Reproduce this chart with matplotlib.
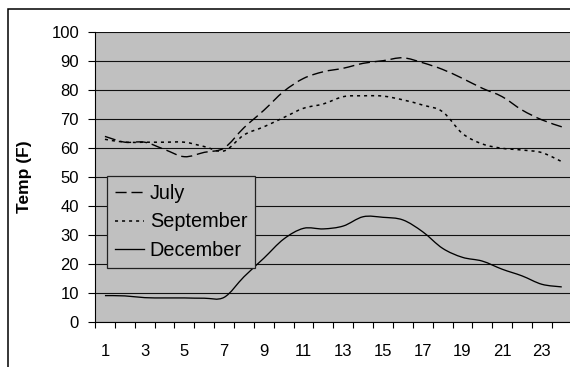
import matplotlib
matplotlib.use("Agg")
import matplotlib.pyplot as plt
from matplotlib.path import Path
from matplotlib.patches import PathPatch, Rectangle
from matplotlib.lines import Line2D
import numpy as np

plt.rcParams['font.family'] = ['Liberation Sans', 'DejaVu Sans']

hours = list(range(1, 25))
july = [64, 62, 62, 59.5, 57, 58.5, 60, 67, 73, 79.5, 84, 86.3, 87.5, 89.2, 90.1, 91.1,
        89.4, 87.1, 84, 80.6, 77.7, 73.1, 69.7, 67.3]
september = [63, 62, 62, 62, 62, 60.5, 59, 64.5, 67.3, 70.5, 73.7, 75.2, 77.7, 78, 77.9, 76.6,
             74.8, 72.5, 65, 61.4, 59.9, 59.3, 58.4, 55.3]
december = [9.1, 9, 8.4, 8.3, 8.3, 8.2, 8.5, 15.6, 22, 28.6, 32.3, 32.1, 33.1, 36.3, 36.1, 35.2,
            31.1, 25.4, 22.3, 21, 18.2, 15.9, 13, 12.1]
series_names = ["July", "September", "December"]
x_tick_labels = [str(h) for h in range(1, 24, 2)]
y_label = "Temp (F)"


def smooth_path(xs, ys):
    """Cubic Bezier path through the points (Catmull-Rom style control points)."""
    pts = np.column_stack([xs, ys]).astype(float)
    n = len(pts)
    verts = [pts[0]]
    codes = [Path.MOVETO]
    for i in range(n - 1):
        p0 = pts[i - 1] if i > 0 else pts[i]
        p1 = pts[i]
        p2 = pts[i + 1]
        p3 = pts[i + 2] if i + 2 < n else pts[i + 1]
        c1 = p1 + (p2 - p0) / 6.0
        c2 = p2 - (p3 - p1) / 6.0
        verts += [c1, c2, p2]
        codes += [Path.CURVE4] * 3
    return Path(verts, codes)


W, H = 570, 367
fig = plt.figure(figsize=(W / 100, H / 100), dpi=100)
fig.patch.set_facecolor("white")

# outer chart frame
fig.patches.append(Rectangle((7.5 / W, -0.2), 1.5, 1.2 - 9 / H, transform=fig.transFigure,
                             fill=False, edgecolor="black", linewidth=1.1))

ax = fig.add_axes([95 / W, 45 / H, 476.7 / W, 290 / H])
ax.set_facecolor("#C0C0C0")
ax.set_xlim(0.5, 24.5)
ax.set_ylim(0, 100)

styles = [
    dict(linestyle=(0, (8, 3.5)), linewidth=1.0),
    dict(linestyle=(0, (2, 2.6)), linewidth=1.1),
    dict(linestyle="-", linewidth=0.95),
]
handles = []
for ys, name, st in zip([july, september, december], series_names, styles):
    patch = PathPatch(smooth_path(hours, ys), fill=False, edgecolor="black",
                      capstyle="butt", zorder=3, **st)
    ax.add_patch(patch)
    handles.append(Line2D([], [], color="black", dash_capstyle="butt", label=name, **st))

# grid
ax.set_yticks(range(0, 101, 10))
ax.yaxis.grid(True, color="#111111", linewidth=0.8)
ax.set_axisbelow(True)

ax.set_xticks(range(1, 24, 2))
ax.set_xticklabels(x_tick_labels)
ax.set_xticks(np.arange(0.5, 25, 1), minor=True)
ax.tick_params(axis="x", which="major", length=0, pad=16, labelsize=12)
ax.tick_params(axis="x", which="minor", length=4.5, width=0.8, direction="out")
ax.tick_params(axis="y", which="major", length=5, width=0.8, direction="out", pad=6.5, labelsize=12)

for side in ["top", "right"]:
    ax.spines[side].set_visible(False)
for side in ["left", "bottom"]:
    ax.spines[side].set_color("black")
    ax.spines[side].set_linewidth(0.8)

ax.set_ylabel(y_label, fontsize=12.5, fontweight="bold")
ax.yaxis.set_label_coords((32 - 95) / 476.7, 0.5)

leg = ax.legend(handles=handles, loc="upper left", bbox_to_anchor=((107 - 95) / 476.7, (322 - 176) / 290),
                borderaxespad=0, fontsize=14.3, frameon=True, fancybox=False, handlelength=1.45,
                handletextpad=0.3, labelspacing=0.48, borderpad=0.4)
frame = leg.get_frame()
frame.set_facecolor("#C0C0C0")
frame.set_edgecolor("#222222")
frame.set_linewidth(0.9)
frame.set_alpha(None)

fig.savefig("out.png", dpi=100)
